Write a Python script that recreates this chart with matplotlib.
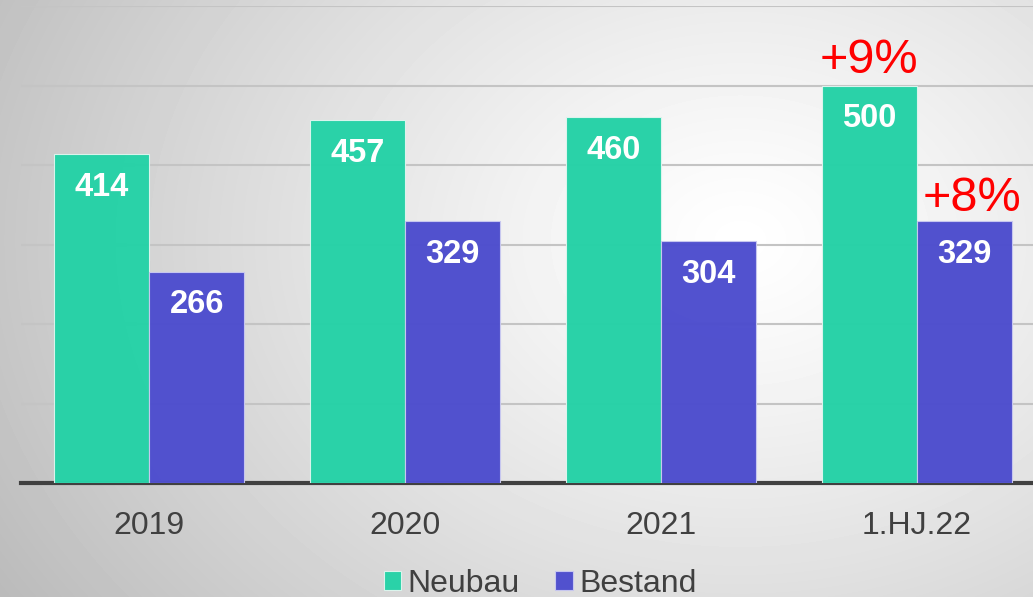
import numpy as np
import matplotlib
matplotlib.use("Agg")
import matplotlib.pyplot as plt

plt.rcParams["font.family"] = ["Liberation Sans", "DejaVu Sans"]

categories = ["2019", "2020", "2021", "1.HJ.22"]
neubau = [414, 457, 460, 500]
bestand = [266, 329, 304, 329]
growth_labels = {"neubau": "+9%", "bestand": "+8%"}

W, H = 1033, 597
fig = plt.figure(figsize=(W / 100, H / 100), dpi=100)

# radial gradient background
bg = fig.add_axes([0, 0, 1, 1], zorder=-10)
yy, xx = np.mgrid[0:H, 0:W]
r = np.sqrt(((xx - 740) / 850.0) ** 2 + ((yy - 240) / 650.0) ** 2)
val = 1.0 - 0.26 * np.clip(r, 0, 1.1) ** 1.2
bg.imshow(val, cmap="gray", vmin=0, vmax=1, aspect="auto", extent=[0, W, H, 0])
bg.axis("off")

left, bottom = 21 / W, 114 / H
ax = fig.add_axes([left, bottom, 1 - left, 477 / H])
ax.set_facecolor("none")

x = np.arange(len(categories))
bw = 0.372
c_neu = "#26D2A7"
c_bes = "#4E4ECE"
b1 = ax.bar(x - bw / 2, neubau, bw, color=c_neu, edgecolor="#DDF5EE", linewidth=0.8,
            alpha=0.98, zorder=3)
b2 = ax.bar(x + bw / 2, bestand, bw, color=c_bes, edgecolor="#C8C8F0", linewidth=0.8,
            alpha=0.98, zorder=3)

for xi, v in zip(x, neubau):
    ax.text(xi - bw / 2, v - 42, str(v), ha="center", va="center", color="white",
            fontsize=23.5, fontweight="bold", zorder=5)
for xi, v in zip(x, bestand):
    ax.text(xi + bw / 2, v - 42, str(v), ha="center", va="center", color="white",
            fontsize=23.5, fontweight="bold", zorder=5)

ax.text(x[-1] - bw / 2, neubau[-1] + 32, growth_labels["neubau"], ha="center", va="center",
        color="#FF0000", fontsize=35, zorder=5)
ax.text(x[-1] + bw / 2 + 0.03, bestand[-1] + 29, growth_labels["bestand"], ha="center",
        va="center", color="#FF0000", fontsize=35, zorder=5)

ax.set_xlim(-0.5, -0.5 + (W - 21) / 256)
ax.set_ylim(0, 600)
ax.set_yticks(range(0, 601, 100))
ax.yaxis.grid(True, color="#C4C4C4", linewidth=1.5, zorder=0)
ax.set_axisbelow(True)
ax.tick_params(axis="y", left=False, labelleft=False)
ax.tick_params(axis="x", length=0, pad=20, labelsize=23, labelcolor="#404040")
ax.set_xticks(x)
ax.set_xticklabels(categories)
for s in ["top", "right", "left"]:
    ax.spines[s].set_visible(False)
ax.spines["bottom"].set_color("#404040")
ax.spines["bottom"].set_linewidth(3)

leg = fig.legend([b1, b2], ["Neubau", "Bestand"], loc="center", bbox_to_anchor=(540 / W, 1 - 584 / H),
                 ncol=2, frameon=False, fontsize=23, handlelength=0.55, handleheight=0.55,
                 handletextpad=0.2, columnspacing=1.1, labelcolor="#404040")

fig.savefig("out.png", dpi=100)
